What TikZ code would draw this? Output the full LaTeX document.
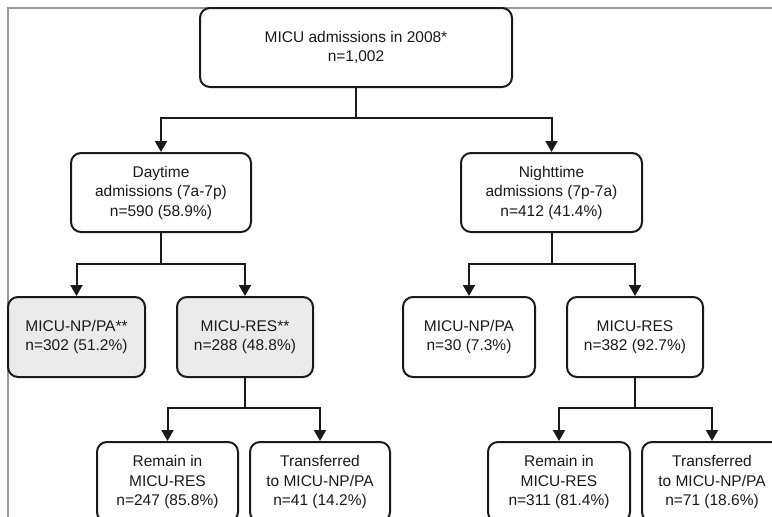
\documentclass[tikz,border=0pt]{standalone}
\usepackage{fontspec}
\setmainfont{Liberation Sans}
\usetikzlibrary{arrows.meta}
\definecolor{boxgray}{HTML}{EBEBEB}
\definecolor{ink}{HTML}{1A1A1A}
\definecolor{framegray}{HTML}{9A9A9A}
\begin{document}
\begin{tikzpicture}[x=1pt,y=-1pt,
  box/.style={draw=ink,line width=2pt,rounded corners=10pt,fill=white,
    align=center,inner sep=0pt,text=ink,
    font=\fontsize{15.5}{19.5}\selectfont},
  graybox/.style={box,fill=boxgray},
  arr/.style={draw=ink,line width=2pt,-{Triangle[width=12pt,length=11pt]}},
  ln/.style={draw=ink,line width=2pt}]
\useasboundingbox (0,0) rectangle (772,517);
\clip (0,0) rectangle (772,517);
\fill[white] (0,0) rectangle (772,517);
\draw[framegray,line width=1.2pt] (8,517) -- (8,8) -- (772,8);

\node[box,minimum width=312pt,minimum height=79pt] (top) at (356,47.5)
  {MICU admissions in 2008*\\n=1,002};
\node[box,minimum width=180pt,minimum height=79pt] (day) at (161,192.5)
  {Daytime\\admissions (7a-7p)\\n=590 (58.9\%)};
\node[box,minimum width=181pt,minimum height=79pt] (night) at (551.5,192.5)
  {Nighttime\\admissions (7p-7a)\\n=412 (41.4\%)};

\node[graybox,minimum width=137pt,minimum height=80pt] (dnp) at (76.5,337)
  {MICU-NP/PA**\\n=302 (51.2\%)};
\node[graybox,minimum width=136pt,minimum height=80pt] (dres) at (245,337)
  {MICU-RES**\\n=288 (48.8\%)};
\node[box,minimum width=132pt,minimum height=80pt] (nnp) at (469,337)
  {MICU-NP/PA\\n=30 (7.3\%)};
\node[box,minimum width=136pt,minimum height=80pt] (nres) at (635,337)
  {MICU-RES\\n=382 (92.7\%)};

\node[box,minimum width=141pt,minimum height=80pt] (drem) at (167.5,482)
  {Remain in\\MICU-RES\\n=247 (85.8\%)};
\node[box,minimum width=140pt,minimum height=80pt] (dtr) at (320,482)
  {Transferred\\to MICU-NP/PA\\n=41 (14.2\%)};
\node[box,minimum width=142pt,minimum height=80pt] (nrem) at (559,482)
  {Remain in\\MICU-RES\\n=311 (81.4\%)};
\node[box,minimum width=140pt,minimum height=80pt] (ntr) at (712,482)
  {Transferred\\to MICU-NP/PA\\n=71 (18.6\%)};

\coordinate (b0) at (356,118);
\coordinate (b1) at (161,264);
\coordinate (b2) at (551.5,264);
\coordinate (b3) at (245,408);
\coordinate (b4) at (635,408);

\draw[ln] (top.south) -- (b0);
\draw[arr] (b0) -| (day.north);
\draw[arr] (b0) -| (night.north);
\draw[ln] (day.south) -- (b1);
\draw[arr] (b1) -| (dnp.north);
\draw[arr] (b1) -| (dres.north);
\draw[ln] (night.south) -- (b2);
\draw[arr] (b2) -| (nnp.north);
\draw[arr] (b2) -| (nres.north);
\draw[ln] (dres.south) -- (b3);
\draw[arr] (b3) -| (drem.north);
\draw[arr] (b3) -| (dtr.north);
\draw[ln] (nres.south) -- (b4);
\draw[arr] (b4) -| (nrem.north);
\draw[arr] (b4) -| (ntr.north);
\end{tikzpicture}
\end{document}
